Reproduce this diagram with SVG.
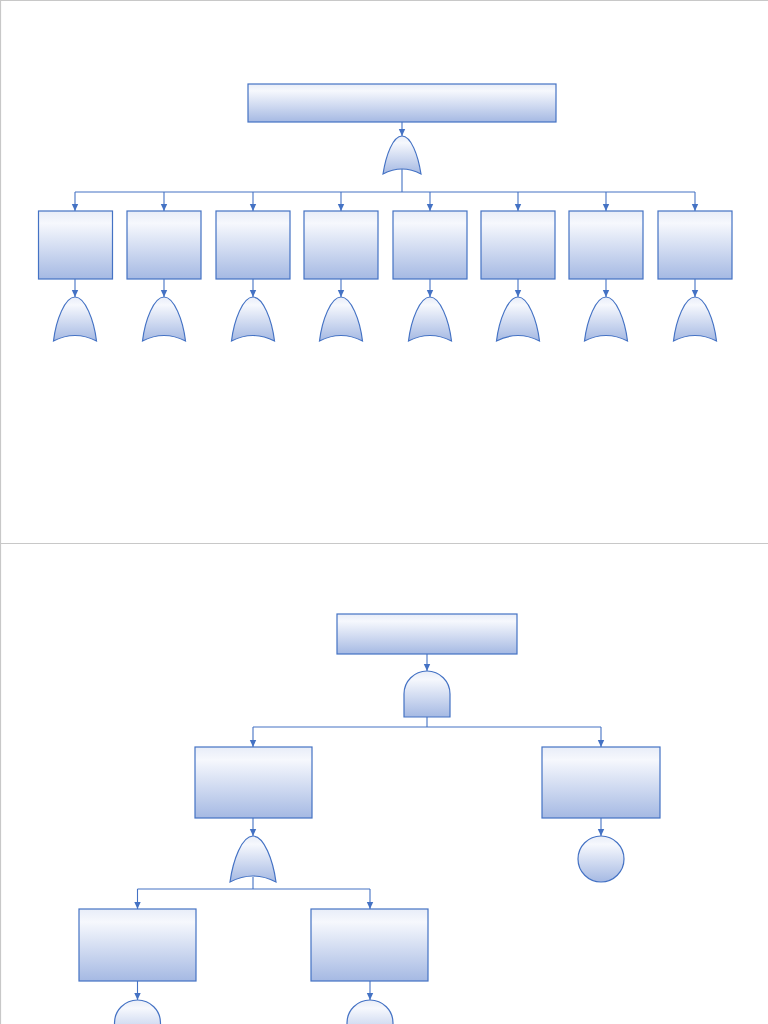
<svg xmlns="http://www.w3.org/2000/svg" width="768" height="1024" viewBox="0 0 768 1024">
<style>
.b{fill:url(#g);stroke:#4472c4;stroke-width:1.2}
.c{fill:none;stroke:#4472c4;stroke-width:1.1}
.a{marker-end:url(#ar)}
.pg{stroke:#c8c8c8;stroke-width:1.2;fill:none}
</style>
<defs>
<linearGradient id="g" x1="0" y1="0" x2="0" y2="1">
<stop offset="0" stop-color="#e8edf8"/>
<stop offset="0.18" stop-color="#f6f8fd"/>
<stop offset="1" stop-color="#a5b9e3"/>
</linearGradient>
<marker id="ar" markerUnits="userSpaceOnUse" markerWidth="8" markerHeight="8" viewBox="0 0 8 8" refX="7" refY="4" orient="auto">
<path d="M0,0.8 L7,4 L0,7.2 z" fill="#4472c4"/>
</marker>
</defs>
<g id="page">
<path class="pg" d="M0.5,1024 V0.5 H768"/>
<path class="pg" d="M0,543.5 H768"/>
</g>
<g id="connectors">
<path class="c a" d="M402,122 V136"/>
<path class="c" d="M402,169 V192 M75,192 H695"/>
<path class="c a" d="M75,192 V211"/>
<path class="c a" d="M164,192 V211"/>
<path class="c a" d="M253,192 V211"/>
<path class="c a" d="M341,192 V211"/>
<path class="c a" d="M430,192 V211"/>
<path class="c a" d="M518,192 V211"/>
<path class="c a" d="M606,192 V211"/>
<path class="c a" d="M695,192 V211"/>
<path class="c a" d="M75,279 V297"/>
<path class="c a" d="M164,279 V297"/>
<path class="c a" d="M253,279 V297"/>
<path class="c a" d="M341,279 V297"/>
<path class="c a" d="M430,279 V297"/>
<path class="c a" d="M518,279 V297"/>
<path class="c a" d="M606,279 V297"/>
<path class="c a" d="M695,279 V297"/>
<path class="c a" d="M427,654 V671"/>
<path class="c" d="M427,717 V727 M253,727 H601"/>
<path class="c a" d="M253,727 V747"/>
<path class="c a" d="M601,727 V747"/>
<path class="c a" d="M253,818 V836"/>
<path class="c a" d="M601,818 V836"/>
<path class="c" d="M253,877 V889 M137.5,889 H370"/>
<path class="c a" d="M137.5,889 V909"/>
<path class="c a" d="M370,889 V909"/>
<path class="c a" d="M137.5,981 V1000"/>
<path class="c a" d="M370,981 V1000"/>
</g>
<g id="top1"><rect class="b" x="248" y="84" width="308" height="38"/></g>
<g id="gate1"><path class="b" d="M383,174 C386,155 393,136 402,136 C411,136 418,155 421,174 Q402,164 383,174 Z"/></g>
<g id="box1"><rect class="b" x="38.5" y="211" width="74" height="68"/></g>
<g id="box2"><rect class="b" x="127" y="211" width="74" height="68"/></g>
<g id="box3"><rect class="b" x="216" y="211" width="74" height="68"/></g>
<g id="box4"><rect class="b" x="304" y="211" width="74" height="68"/></g>
<g id="box5"><rect class="b" x="393" y="211" width="74" height="68"/></g>
<g id="box6"><rect class="b" x="481" y="211" width="74" height="68"/></g>
<g id="box7"><rect class="b" x="569" y="211" width="74" height="68"/></g>
<g id="box8"><rect class="b" x="658" y="211" width="74" height="68"/></g>
<g id="gates-row">
<path id="g1" class="b" transform="translate(75,0)" d="M-21.5,341 C-19,320 -10,297 0,297 C10,297 19,320 21.5,341 Q0,330 -21.5,341 Z"/>
<path id="g2" class="b" transform="translate(164,0)" d="M-21.5,341 C-19,320 -10,297 0,297 C10,297 19,320 21.5,341 Q0,330 -21.5,341 Z"/>
<path id="g3" class="b" transform="translate(253,0)" d="M-21.5,341 C-19,320 -10,297 0,297 C10,297 19,320 21.5,341 Q0,330 -21.5,341 Z"/>
<path id="g4" class="b" transform="translate(341,0)" d="M-21.5,341 C-19,320 -10,297 0,297 C10,297 19,320 21.5,341 Q0,330 -21.5,341 Z"/>
<path id="g5" class="b" transform="translate(430,0)" d="M-21.5,341 C-19,320 -10,297 0,297 C10,297 19,320 21.5,341 Q0,330 -21.5,341 Z"/>
<path id="g6" class="b" transform="translate(518,0)" d="M-21.5,341 C-19,320 -10,297 0,297 C10,297 19,320 21.5,341 Q0,330 -21.5,341 Z"/>
<path id="g7" class="b" transform="translate(606,0)" d="M-21.5,341 C-19,320 -10,297 0,297 C10,297 19,320 21.5,341 Q0,330 -21.5,341 Z"/>
<path id="g8" class="b" transform="translate(695,0)" d="M-21.5,341 C-19,320 -10,297 0,297 C10,297 19,320 21.5,341 Q0,330 -21.5,341 Z"/>
</g>
<g id="top2"><rect class="b" x="337" y="614" width="180" height="40"/></g>
<g id="and2"><path class="b" d="M404,717 V694 A23,23 0 0 1 450,694 V717 Z"/></g>
<g id="boxL"><rect class="b" x="195" y="747" width="117" height="71"/></g>
<g id="boxR"><rect class="b" x="542" y="747" width="118" height="71"/></g>
<g id="or2"><path class="b" d="M230,882 C233,860 242,836 253,836 C264,836 273,860 276,882 Q253,870 230,882 Z"/></g>
<g id="circR"><circle class="b" cx="601" cy="859" r="23"/></g>
<g id="boxLL"><rect class="b" x="79" y="909" width="117" height="72"/></g>
<g id="boxLR"><rect class="b" x="311" y="909" width="117" height="72"/></g>
<g id="circLL"><circle class="b" cx="137.5" cy="1023" r="23"/></g>
<g id="circLR"><circle class="b" cx="370" cy="1023" r="23"/></g>
</svg>
